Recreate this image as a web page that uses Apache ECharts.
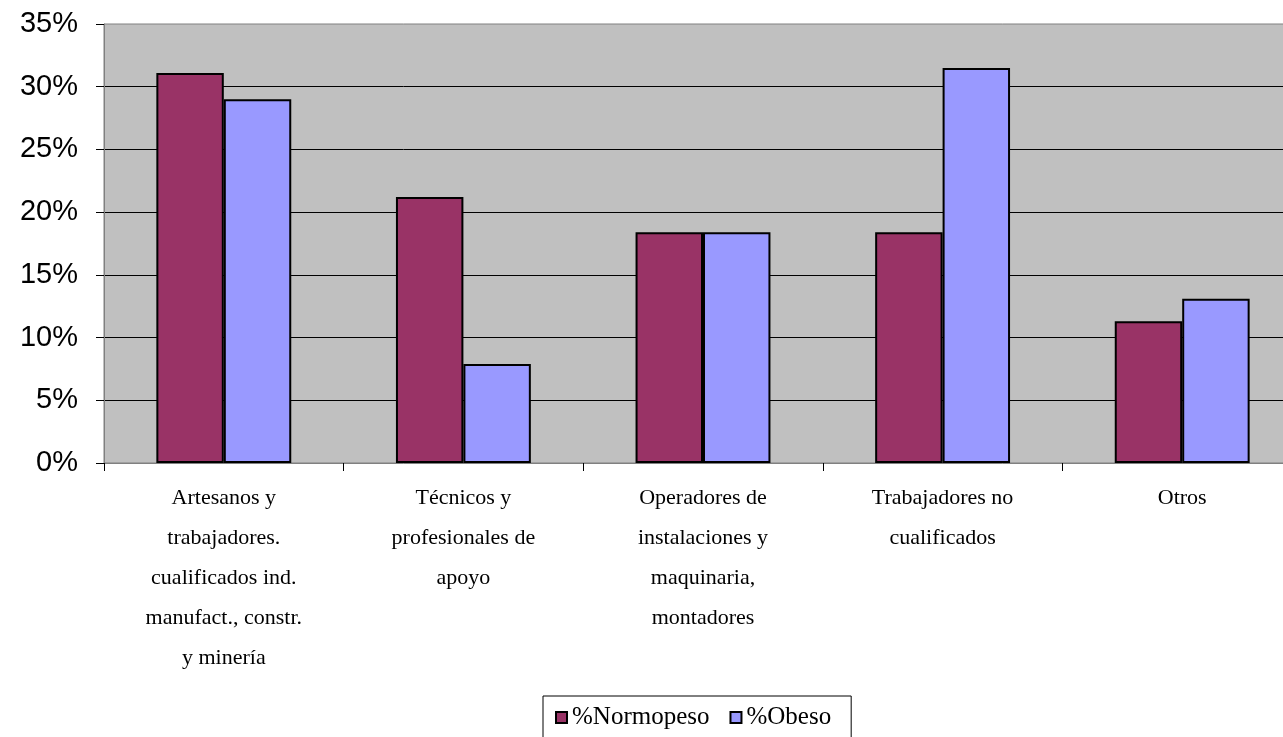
<!DOCTYPE html>
<html>
<head>
<meta charset="utf-8">
<script src="https://cdn.jsdelivr.net/npm/echarts@6/dist/echarts.min.js"></script>
<style>
  html, body { margin: 0; padding: 0; background: #fff; overflow: hidden; }
  /* plot area runs past the right edge in the original, so the canvas is wider than the window */
  #chart { width: 1302px; height: 737px; }
</style>
</head>
<body>
<div id="chart"></div>
<script>
const categories = [
  "Artesanos y\ntrabajadores.\ncualificados ind.\nmanufact., constr.\ny minería",
  "Técnicos y\nprofesionales de\napoyo",
  "Operadores de\ninstalaciones y\nmaquinaria,\nmontadores",
  "Trabajadores no\ncualificados",
  "Otros"
];
const normopeso = [31.1, 21.2, 18.4, 18.4, 11.3];
const obeso = [29.0, 7.9, 18.4, 31.5, 13.1];
const yTicks = [0, 5, 10, 15, 20, 25, 30, 35];

const SERIF = "'Liberation Serif', 'DejaVu Serif', serif";
const SANS = "'Liberation Sans', Arial, sans-serif";

const chart = echarts.init(document.getElementById("chart"));

const barStyle = (color) => ({
  color: color,
  borderColor: "#000",
  borderWidth: 2,
});

chart.setOption({
  animation: false,
  backgroundColor: "#fff",
  grid: {
    left: 104,
    right: 0,
    top: 24,
    bottom: 274,
    show: true,
    backgroundColor: "#C0C0C0",
    borderColor: "#808080",
    borderWidth: 1,
  },
  legend: {
    left: 543,
    top: 696,
    orient: "horizontal",
    padding: [9, 20, 30, 12],
    itemGap: 20,
    itemWidth: 11,
    itemHeight: 11,
    borderColor: "#000",
    borderWidth: 1,
    textStyle: { fontFamily: SERIF, fontSize: 25, color: "#000" },
    data: [
      { name: "%Normopeso", icon: "rect", itemStyle: barStyle("#993366") },
      { name: "%Obeso", icon: "rect", itemStyle: barStyle("#9999FF") },
    ],
  },
  xAxis: {
    type: "category",
    data: categories,
    axisLine: { show: true, lineStyle: { color: "#808080", width: 1 } },
    axisTick: { show: true, length: 8, lineStyle: { color: "#000" } },
    axisLabel: {
      interval: 0,
      margin: 15,
      fontFamily: SERIF,
      fontSize: 22,
      lineHeight: 40,
      color: "#000",
      align: "center",
    },
  },
  yAxis: {
    type: "value",
    min: yTicks[0],
    max: yTicks[yTicks.length - 1],
    interval: 5,
    axisLine: { show: true, lineStyle: { color: "#808080", width: 1 } },
    axisTick: { show: true, length: 8, lineStyle: { color: "#000" } },
    splitLine: {
      show: true,
      showMinLine: false,
      showMaxLine: false,
      lineStyle: { color: "#000", width: 1 },
    },
    axisLabel: {
      margin: 26,
      fontFamily: SANS,
      fontSize: 29,
      color: "#000",
      formatter: (v) => v + "%",
    },
  },
  series: [
    {
      name: "%Normopeso",
      type: "bar",
      data: normopeso,
      barGap: "0%",
      barCategoryGap: "43.7%",
      itemStyle: barStyle("#993366"),
    },
    {
      name: "%Obeso",
      type: "bar",
      data: obeso,
      barGap: "0%",
      barCategoryGap: "43.7%",
      itemStyle: barStyle("#9999FF"),
    },
  ],
});
</script>
</body>
</html>
